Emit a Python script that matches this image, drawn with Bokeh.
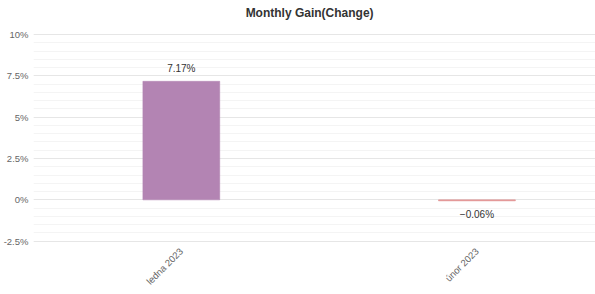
import math
from bokeh.plotting import figure
from bokeh.models import Range1d, FixedTicker, ColumnDataSource, Label
from bokeh.core.properties import value
from bokeh.embed import file_html
from bokeh.resources import INLINE

# ---- data ----
title_text = "Monthly Gain(Change)"
categories = ["ledna 2023", "únor 2023"]
gains = [7.17, -0.06]
bar_colors = ["#b384b3", "#e08a8a"]
y_ticks = [-2.5, 0, 2.5, 5, 7.5, 10]
y_tick_labels = ["-2.5%", "0%", "2.5%", "5%", "7.5%", "10%"]

FONT = "Liberation Sans"

xs = [i + 0.5 for i in range(len(categories))]
labels = [(f"{v:.2f}%").replace("-", "\u2212") for v in gains]
offsets = [-13 if v >= 0 else 14 for v in gains]
src = ColumnDataSource(dict(x=xs, top=gains, color=bar_colors, label=labels, yoff=offsets))

p = figure(width=595, height=294, output_backend="svg", toolbar_location=None,
           x_range=Range1d(0, 1.901), y_range=Range1d(-2.76, 12.057),
           min_border_left=33, min_border_right=0, min_border_bottom=49, min_border_top=0)
p.outline_line_color = None
p.background_fill_color = "white"
p.border_fill_color = "white"
p.title.visible = False

# chart title, placed in the empty band above the 10% gridline
p.add_layout(Label(x=0.934, y=11.33,
                   text=title_text, text_align="center", text_baseline="middle",
                   text_font=FONT, text_font_size="12px", text_font_style="bold",
                   text_color="#333333"))

p.vbar(x="x", top="top", bottom=0, width=0.26, color="color", line_color="color",
       line_width=0.5, source=src)
p.text(x="x", y="top", text="label", y_offset="yoff", source=src,
       text_align="center", text_baseline="middle",
       text_font=value(FONT), text_font_size="10px", text_color="#333333")

# y axis
yax = p.yaxis[0]
yax.ticker = FixedTicker(ticks=y_ticks,
                         minor_ticks=[-2.5 + 0.5 * i for i in range(26)])
yax.major_label_overrides = {t: l for t, l in zip(y_ticks, y_tick_labels)}
yax.axis_line_color = None
yax.major_tick_line_color = None
yax.minor_tick_line_color = None
yax.major_tick_out = 0
yax.major_tick_in = 0
yax.minor_tick_out = 0
yax.minor_tick_in = 0
yax.major_label_standoff = 5
yax.major_label_text_font = FONT
yax.major_label_text_font_size = "9.5px"
yax.major_label_text_color = "#666666"

# x axis
xax = p.xaxis[0]
xax.ticker = FixedTicker(ticks=xs)
xax.major_label_overrides = {x: c for x, c in zip(xs, categories)}
xax.major_label_orientation = math.pi / 4
xax.axis_line_color = None
xax.major_tick_line_color = None
xax.minor_tick_line_color = None
xax.major_tick_out = 0
xax.major_tick_in = 0
xax.major_label_standoff = 4
xax.major_label_text_font = FONT
xax.major_label_text_font_size = "9.5px"
xax.major_label_text_color = "#666666"

p.xgrid.grid_line_color = None
p.ygrid.grid_line_color = "#e6e6e6"
p.ygrid.minor_grid_line_color = "#f4f4f4"

open("out.html", "w").write(file_html(p, INLINE))
